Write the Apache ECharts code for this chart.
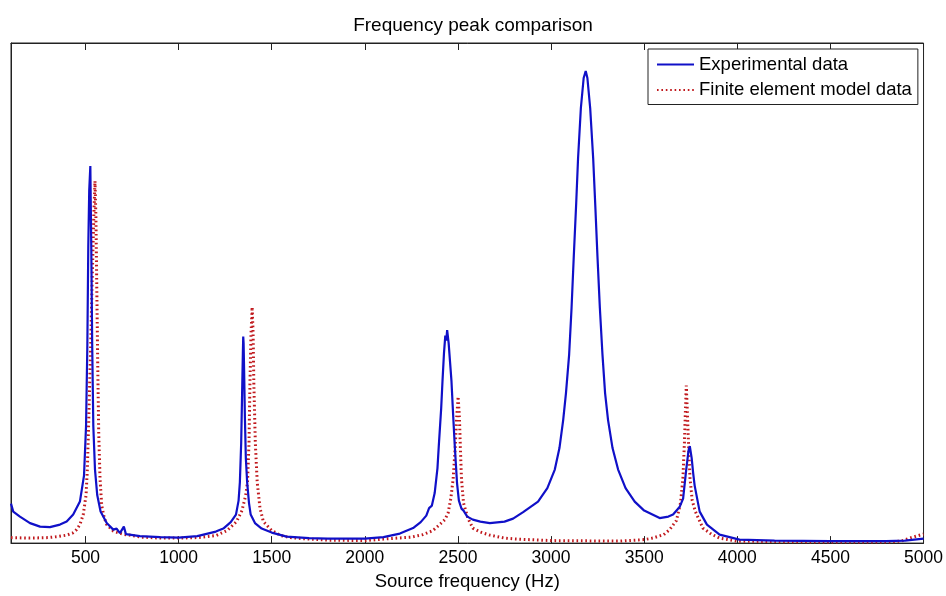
<!DOCTYPE html>
<html>
<head>
<meta charset="utf-8">
<script src="https://cdn.jsdelivr.net/npm/echarts@6/dist/echarts.min.js"></script>
<style>
html,body{margin:0;padding:0;background:#fff;}
#chart{width:946px;height:596px;}
</style>
</head>
<body>
<div id="chart"></div>
<script>
var expFreq = [100,112,148,202,256,309,363,399,434,470,492,503,510,515,520,526,531,536,542,551,563,581,614,649,667,685,706,717,792,900,1000,1100,1200,1240,1280,1308,1322,1329,1336,1341,1345,1347,1349,1352,1356,1361,1368,1378,1387,1410,1446,1500,1580,1700,1800,1900,2000,2100,2188,2259,2300,2330,2345,2360,2375,2390,2397,2410,2417,2425,2432,2437,2442,2450,2458,2465,2475,2483,2495,2505,2519,2530,2550,2580,2620,2671,2750,2796,2850,2930,2980,3020,3045,3065,3080,3097,3110,3122,3135,3145,3160,3175,3186,3195,3210,3226,3238,3249,3262,3276,3290,3306,3330,3360,3400,3449,3500,3583,3630,3655,3690,3709,3726,3738,3745,3755,3763,3771,3798,3837,3905,4012,4200,4500,4800,4900,4950,5000];
var expAmp = [7.9,6.3,5.3,4.0,3.3,3.2,3.7,4.3,5.7,8.3,13.5,23.4,39.7,59.3,70.5,75.4,59.3,39.7,23.4,14.7,9.6,6.3,4.0,2.7,2.9,2.0,3.3,1.8,1.4,1.2,1.1,1.4,2.3,2.9,4.2,5.7,8.5,12.2,20,30,38,41.3,40,34,25,17,12.2,8,5.7,4.0,2.9,2.1,1.3,1.0,0.9,0.9,0.9,1.2,1.9,3.0,4.2,5.5,7.0,7.5,10,15,19.4,27,32.4,38,41.5,40.5,42.6,40,36,32.5,25,19.4,12,8.5,6.9,6.5,5.3,4.7,4.3,4.0,4.3,4.9,6.2,8.3,11,14.7,19,24.6,30,37.7,47,57.4,68,77,87,93,94.4,93,87,77,67,57.4,47,37.7,30,24.6,19,14.7,11,8.3,6.5,5.0,5.3,5.7,7.2,8.9,14.8,18.5,19.4,17,14,11.5,6.3,3.7,1.7,0.7,0.5,0.4,0.4,0.5,0.7,0.9];

// Finite element model data
var femFreq = [100,200,300,350,400,430,452,470,488,503,510,518,528,536,545,551,556,561,566,571,578,587,600,614,650,700,800,900,1000,1100,1200,1260,1311,1340,1360,1370,1378,1383,1389,1395,1400,1404,1412,1422,1437,1455,1500,1550,1600,1700,1800,2000,2100,2250,2313,2365,2402,2430,2447,2462,2474,2485,2493,2501,2508,2513,2519,2530,2554,2580,2620,2671,2750,2814,3000,3368,3500,3546,3605,3637,3673,3695,3708,3716,3721,3726,3732,3738,3746,3758,3775,3815,3860,3905,3995,4200,4500,4800,4880,4925,5000];
var femAmp = [1.1,1.0,1.1,1.3,1.6,2.0,2.7,3.7,5.7,9.6,14.8,25.3,39.7,52.8,65.9,72.4,65,50,35,22,13,7.5,5.2,3.7,2.4,1.8,1.2,1.0,1.0,1.1,1.5,2.5,4.3,6.5,9.5,12.2,20,31.8,42,47.2,42,31.8,20,12.2,7,4.3,2.5,1.5,1.1,0.8,0.6,0.5,0.8,1.2,1.7,2.5,3.7,4.7,6,9,12.8,19,25,29.3,25,19,12.8,8,4.9,3.0,2.2,1.6,1.0,0.8,0.5,0.4,0.7,1.0,1.7,2.7,4.5,8,13,20,26,31.5,26,20,13,8.5,6.3,3.0,1.8,1.0,0.4,0.3,0.2,0.2,0.4,1.0,1.8];

var seriesNames = ['Experimental data', 'Finite element model data'];
var titleText = 'Frequency peak comparison';
var xName = 'Source frequency (Hz)';

function zip(a, b) { return a.map(function (v, i) { return [v, b[i]]; }); }

var FONT = 'Arial, "Liberation Sans", sans-serif';
var chart = echarts.init(document.getElementById('chart'), null, {renderer: 'canvas'});
chart.setOption({
  animation: false,
  backgroundColor: '#fff',
  title: {
    text: titleText, left: 'center', top: 11,
    textStyle: {fontFamily: FONT, fontSize: 19, fontWeight: 'normal', color: '#000'}
  },
  grid: {left: 11, right: 21, top: 43, bottom: 44, show: true, borderColor: '#222', borderWidth: 1, backgroundColor: 'transparent'},
  legend: {
    data: seriesNames, orient: 'vertical', left: 648, top: 49,
    backgroundColor: '#fff', borderColor: '#222', borderWidth: 1,
    padding: [6, 6, 5, 8], itemWidth: 37, itemHeight: 14, itemGap: 6.5,
    itemStyle: {color: 'rgba(0,0,0,0)', borderColor: 'rgba(0,0,0,0)', borderWidth: 0},
    textStyle: {fontFamily: FONT, fontSize: 18.5, color: '#000', lineHeight: 18.5}
  },
  xAxis: [{
    type: 'value', min: 100, max: 5000, splitNumber: 10, position: 'bottom',
    name: xName, nameLocation: 'middle', nameGap: 28,
    nameTextStyle: {fontFamily: FONT, fontSize: 18.5, color: '#000'},
    axisLine: {show: true, onZero: false, lineStyle: {color: '#222', width: 1}},
    axisTick: {show: true, inside: true, length: 7, lineStyle: {color: '#222'}},
    axisLabel: {fontFamily: FONT, fontSize: 17.5, color: '#000', margin: 6, showMinLabel: false,
      formatter: function (v) { return String(v); }},
    splitLine: {show: false}
  }, {
    type: 'value', min: 100, max: 5000, splitNumber: 10, position: 'top',
    axisLine: {show: true, onZero: false, lineStyle: {color: '#222', width: 1}},
    axisTick: {show: true, inside: true, length: 7, lineStyle: {color: '#222'}},
    axisLabel: {show: false},
    splitLine: {show: false}
  }],
  yAxis: {
    type: 'value', min: 0, max: 100,
    axisLine: {show: true, lineStyle: {color: '#222'}},
    axisTick: {show: false}, axisLabel: {show: false}, splitLine: {show: false}
  },
  series: [{
    name: seriesNames[1], type: 'line', xAxisIndex: 0, data: zip(femFreq, femAmp),
    symbol: 'none', showSymbol: false, z: 2,
    lineStyle: {color: '#c0181c', width: 3, type: [1.6, 2.8]},
    itemStyle: {color: '#c0181c'}
  }, {
    name: seriesNames[0], type: 'line', xAxisIndex: 0, data: zip(expFreq, expAmp),
    symbol: 'none', showSymbol: false, z: 3,
    lineStyle: {color: '#1010c8', width: 2.2},
    itemStyle: {color: '#1010c8'}
  }]
});
</script>
</body>
</html>
